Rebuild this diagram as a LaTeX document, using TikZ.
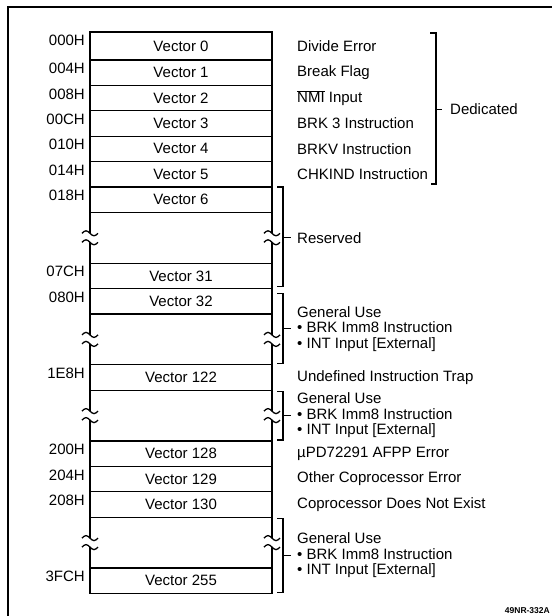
\documentclass[tikz,border=0pt]{standalone}
\usepackage{fontspec}
\setmainfont{Liberation Sans}
\usetikzlibrary{positioning, calc}

\begin{document}
\begin{tikzpicture}[
    x=1pt, y=-1pt,
    node distance=0pt,
    every node/.style={font=\fontsize{15}{15.5}\selectfont},
    vec/.style={rectangle, draw, line width=1.3pt, minimum width=182pt, minimum height=25.4pt, inner sep=0pt, outer sep=0pt, text centered},
    gapbox/.style={rectangle, minimum width=182pt, minimum height=50.8pt, inner sep=0pt, outer sep=0pt},
    addr/.style={anchor=north east, inner sep=0pt, xshift=-5pt, yshift=-3pt},
    desc/.style={anchor=west, inner sep=0pt, align=left},
    brk/.style={line width=1.2pt},
    tableline/.style={line width=1.8pt},
    breakmark/.pic={
        \fill[white] (-2.6pt,-4.5pt) rectangle (2.6pt,4.5pt);
        \draw[line width=1.3pt] (-8pt,4.5pt) sin (-4pt,7pt) cos (0pt,4.5pt) sin (4pt,2pt) cos (8pt,4.5pt);
        \draw[line width=1.3pt] (-8pt,-4.5pt) sin (-4pt,-2pt) cos (0pt,-4.5pt) sin (4pt,-7pt) cos (8pt,-4.5pt);
    }
]
    \useasboundingbox (0,0) rectangle (552,616);

    % Frame
    \draw[tableline] (8,616) -- (8,7) -- (552,7);

    % Vector table
    \node[vec, minimum height=28pt, anchor=north west] (v0) at (90,32) {Vector 0};
    \node[vec, below=of v0] (v1) {Vector 1};
    \node[vec, below=of v1] (v2) {Vector 2};
    \node[vec, below=of v2] (v3) {Vector 3};
    \node[vec, below=of v3] (v4) {Vector 4};
    \node[vec, below=of v4] (v5) {Vector 5};
    \node[vec, below=of v5] (v6) {Vector 6};
    \node[gapbox, below=of v6] (g1) {};
    \node[vec, below=of g1] (v31) {Vector 31};
    \node[vec, below=of v31] (v32) {Vector 32};
    \node[gapbox, below=of v32] (g2) {};
    \node[vec, below=of g2] (v122) {Vector 122};
    \node[gapbox, below=of v122] (g3) {};
    \node[vec, below=of g3] (v128) {Vector 128};
    \node[vec, below=of v128] (v129) {Vector 129};
    \node[vec, below=of v129] (v130) {Vector 130};
    \node[gapbox, below=of v130] (g4) {};
    \node[vec, below=of g4] (v255) {Vector 255};
    \draw[tableline] (v0.north west) rectangle (v255.south east);

    % Breaks
    \pic at (g1.west) {breakmark};
    \pic at (g1.east) {breakmark};
    \pic at (g2.west) {breakmark};
    \pic at (g2.east) {breakmark};
    \pic at (g3.west) {breakmark};
    \pic at (g3.east) {breakmark};
    \pic at (g4.west) {breakmark};
    \pic at (g4.east) {breakmark};

    % Addresses
    \node[addr] (a000) at (v0.north west) {000H};
    \node[addr] (a004) at (v1.north west) {004H};
    \node[addr] (a008) at (v2.north west) {008H};
    \node[addr] (a00c) at (v3.north west) {00CH};
    \node[addr] (a010) at (v4.north west) {010H};
    \node[addr] (a014) at (v5.north west) {014H};
    \node[addr] (a018) at (v6.north west) {018H};
    \node[addr] (a07c) at (v31.north west) {07CH};
    \node[addr] (a080) at (v32.north west) {080H};
    \node[addr] (a1e8) at (v122.north west) {1E8H};
    \node[addr] (a200) at (v128.north west) {200H};
    \node[addr] (a204) at (v129.north west) {204H};
    \node[addr] (a208) at (v130.north west) {208H};
    \node[addr] (a3fc) at (v255.north west) {3FCH};

    % Descriptions
    \node[desc, right=25pt of v0] (d0) {Divide Error};
    \node[desc, right=25pt of v1] (d1) {Break Flag};
    \node[desc, right=25pt of v2] (d2) {$\overline{\mbox{NMI}}$ Input};
    \node[desc, right=25pt of v3] (d3) {BRK 3 Instruction};
    \node[desc, right=25pt of v4] (d4) {BRKV Instruction};
    \node[desc, right=25pt of v5] (d5) {CHKIND Instruction};
    \node[desc, right=25pt of v122] (d122) {Undefined Instruction Trap};
    \node[desc, right=25pt of v128] (d128) {µPD72291 AFPP Error};
    \node[desc, right=25pt of v129] (d129) {Other Coprocessor Error};
    \node[desc, right=25pt of v130] (d130) {Coprocessor Does Not Exist};

    % Dedicated
    \node[desc] (ded) at ($(v0.north east)!.5!(v5.south east)+(178,0)$) {Dedicated};
    \draw[brk] ([xshift=158pt,yshift=-1pt]v0.north east) -| ([xshift=164pt,yshift=3pt]v5.south east) -- ([xshift=159pt,yshift=3pt]v5.south east);
    \draw[brk] ([xshift=-14pt]ded.west) -- ([xshift=-8pt]ded.west);

    % Reserved
    \node[desc, right=25pt of g1] (rsv) {Reserved};
    \draw[brk] ([xshift=5pt]v6.north east) -| ([xshift=11pt,yshift=2pt]v31.south east) -- ([xshift=5pt,yshift=2pt]v31.south east);
    \draw[brk] ([xshift=-14pt]rsv.west) -- ([xshift=-6pt]rsv.west);

    % General use
    \node[desc] (gen1) at ($(v32.north east)!.5!(g2.south east)+(25,2)$) {General Use\\\textbullet{} BRK Imm8 Instruction\\\textbullet{} INT Input [External]};
    \draw[brk] ([xshift=5pt,yshift=-5pt]v32.north east) -| ([xshift=11pt,yshift=1pt]g2.south east) -- ([xshift=5pt,yshift=1pt]g2.south east);
    \draw[brk] ([xshift=-14pt]gen1.west) -- ([xshift=-6pt]gen1.west);

    \node[desc, right=25pt of g3] (gen2) {General Use\\\textbullet{} BRK Imm8 Instruction\\\textbullet{} INT Input [External]};
    \draw[brk] ([xshift=5pt,yshift=-1pt]g3.north east) -| ([xshift=11pt,yshift=1pt]g3.south east) -- ([xshift=5pt,yshift=1pt]g3.south east);
    \draw[brk] ([xshift=-14pt]gen2.west) -- ([xshift=-6pt]gen2.west);

    \node[desc] (gen3) at ($(g4.north east)!.5!(v255.south east)+(25,0)$) {General Use\\\textbullet{} BRK Imm8 Instruction\\\textbullet{} INT Input [External]};
    \draw[brk] ([xshift=5pt,yshift=-1pt]g4.north east) -| ([xshift=11pt,yshift=1pt]v255.south east) -- ([xshift=5pt,yshift=1pt]v255.south east);
    \draw[brk] ([xshift=-14pt]gen3.west) -- ([xshift=-6pt]gen3.west);

    % Figure number
    \node[anchor=base east, inner sep=0pt, font=\bfseries\fontsize{8.5}{10}\selectfont] (fignum) at (550,613) {49NR-332A};
\end{tikzpicture}
\end{document}
